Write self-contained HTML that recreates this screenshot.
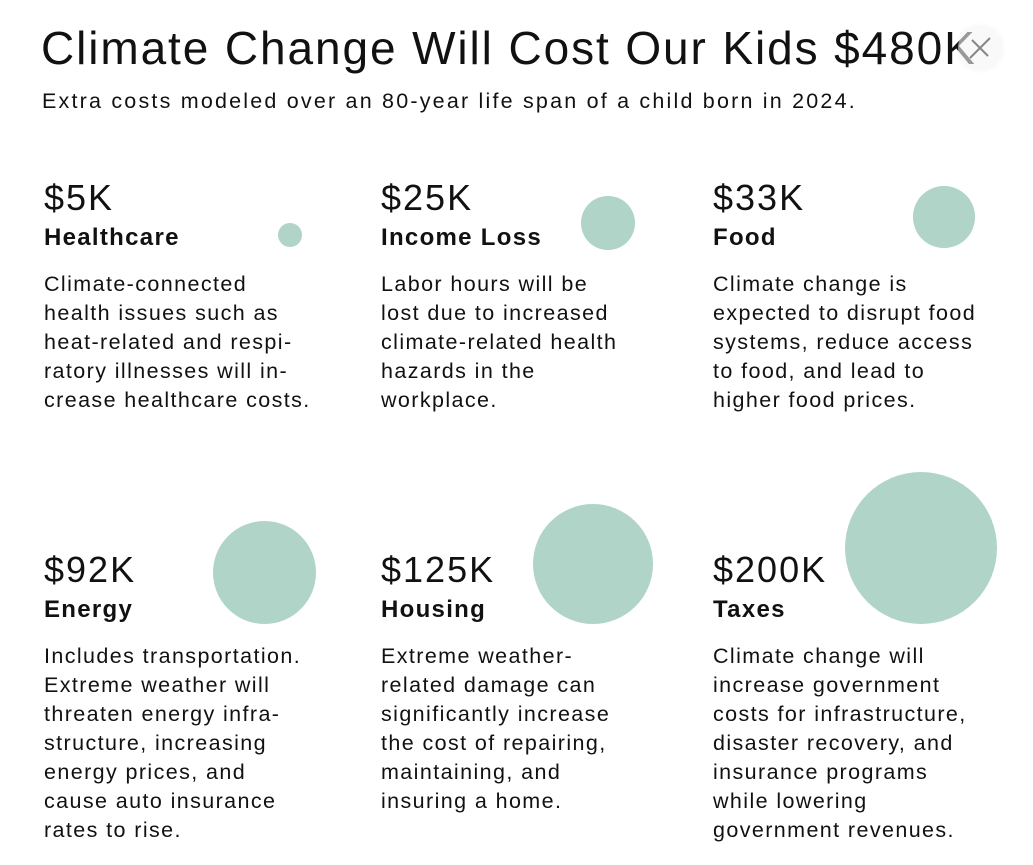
<!DOCTYPE html>
<html><head><meta charset="utf-8"><style>
body{margin:0;width:1033px;height:865px;background:#fff;font-family:"Liberation Sans",sans-serif;color:#111;position:relative;overflow:hidden}
.t{position:absolute;white-space:nowrap}
#title{left:41px;top:20px;font-size:46px;line-height:56px;letter-spacing:1.9px}
#sub{left:42px;top:87px;font-size:21.5px;line-height:28px;letter-spacing:2.2px}
.val{font-size:36px;line-height:40px;letter-spacing:2px}
.name{font-size:24px;font-weight:bold;line-height:30px;letter-spacing:1.3px}
.body{font-size:21.5px;line-height:29px;letter-spacing:1.4px}
.circ{position:absolute;border-radius:50%;background:#b0d4c8}
#close{position:absolute;left:958px;top:26px;width:44px;height:44px;border-radius:50%;background:rgba(245,245,245,0.6);box-shadow:0 0 6px rgba(0,0,0,0.06)}
</style></head><body>
<div class="t" id="title">Climate Change Will Cost Our Kids $480K</div>
<div id="close"><svg width="44" height="44"><line x1="12" y1="32" x2="32" y2="12" stroke="#888" stroke-width="2"/><line x1="14" y1="14" x2="30" y2="30" stroke="#888" stroke-width="2"/></svg></div>
<div class="t" id="sub">Extra costs modeled over an 80-year life span of a child born in 2024.</div>
<div id="cards"></div>
<script>
const categories=["Healthcare","Income Loss","Food","Energy","Housing","Taxes"];
const values=[5,25,33,92,125,200];
const texts=[
["Climate-connected","health issues such as","heat-related and respi-","ratory illnesses will in-","crease healthcare costs."],
["Labor hours will be","lost due to increased","climate-related health","hazards in the","workplace."],
["Climate change is","expected to disrupt food","systems, reduce access","to food, and lead to","higher food prices."],
["Includes transportation.","Extreme weather will","threaten energy infra-","structure, increasing","energy prices, and","cause auto insurance","rates to rise."],
["Extreme weather-","related damage can","significantly increase","the cost of repairing,","maintaining, and","insuring a home."],
["Climate change will","increase government","costs for infrastructure,","disaster recovery, and","insurance programs","while lowering","government revenues."]];
const colX=[44,381,713], rowY=[178,550];
const circX=[290,608,944,265,593,921], circY=[235,223,217,573,564,548];
const rScale=v=>5.37*Math.sqrt(v);
const root=document.getElementById('cards');
categories.forEach((c,i)=>{
 const x=colX[i%3], y=rowY[Math.floor(i/3)];
 const r=rScale(values[i]);
 const ci=document.createElement('div');ci.className='circ';
 
 
 ci.style.left=(circX[i]-r)+'px';ci.style.top=(circY[i]-r)+'px';ci.style.width=(2*r)+'px';ci.style.height=(2*r)+'px';
 root.appendChild(ci);
 const v=document.createElement('div');v.className='t val';v.textContent='$'+values[i]+'K';
 
 
 v.style.left=x+'px';v.style.top=y+'px';root.appendChild(v);
 const n=document.createElement('div');n.className='t name';n.textContent=c;
 
 
 n.style.left=x+'px';n.style.top=(y+45)+'px';root.appendChild(n);
 const b=document.createElement('div');b.className='t body';b.innerHTML=texts[i].join('<br>');
 
 
 b.style.left=x+'px';b.style.top=(y+92)+'px';root.appendChild(b);
});
</script>
</body></html>
